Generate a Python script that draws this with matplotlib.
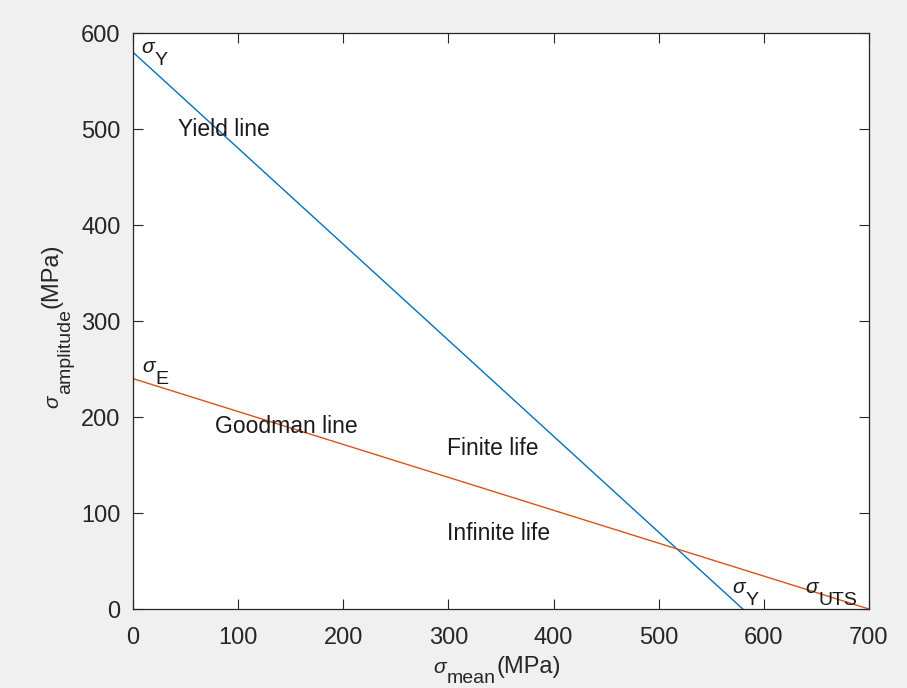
import matplotlib
matplotlib.use("Agg")
import matplotlib.pyplot as plt
from matplotlib.transforms import IdentityTransform

plt.rcParams['font.family'] = ['Liberation Sans', 'DejaVu Sans']

# data
yield_x = [0, 580]
yield_y = [580, 0]
goodman_x = [0, 700]
goodman_y = [240, 0]
x_ticks = [0, 100, 200, 300, 400, 500, 600, 700]
y_ticks = [0, 100, 200, 300, 400, 500, 600]

# plain annotations: (x, y, text)
notes = [
    (43, 500, 'Yield line'),
    (78, 190, 'Goodman line'),
    (299, 167, 'Finite life'),
    (299, 79, 'Infinite life'),
]
# sigma annotations: (x, y baseline, subscript)
sigmas = [
    (8, 579, 'Y'),
    (8.5, 247, 'E'),
    (570, 16.5, 'Y'),
    (639, 16.5, 'UTS'),
]

TXT = '#1a1a1a'
AXC = '#262626'

fig = plt.figure(figsize=(9.07, 6.88), dpi=100, facecolor='#f0f0f0')
ax = fig.add_axes([0.1466, 0.1148, 0.8115, 0.8372])
renderer = fig.canvas.get_renderer()

ax.plot(yield_x, yield_y, color='#0072BD', lw=1.0)
ax.plot(goodman_x, goodman_y, color='#D95319', lw=1.0)

ax.set_xlim(0, 700)
ax.set_ylim(0, 600)
ax.set_xticks(x_ticks)
ax.set_yticks(y_ticks)


def chain(parts, x, y, rot=0, color=TXT):
    # parts: list of (text, drop in px, italic, size); x, y in display px
    for s, drop, italic, size in parts:
        if rot == 0:
            px, py = x, y - drop
        else:
            px, py = x + drop, y
        t = fig.text(px, py, s, transform=IdentityTransform(), fontsize=size,
                     style='italic' if italic else 'normal', color=color,
                     ha='left', va='baseline', rotation=rot, rotation_mode='anchor')
        bb = t.get_window_extent(renderer)
        if rot == 0:
            x += bb.width + 1
        else:
            y += bb.height + 1


for x, y, s in notes:
    ax.text(x, y, s, fontsize=16.5, color=TXT, ha='left', va='center')

for x, y, sub in sigmas:
    dx, dy = ax.transData.transform((x, y))
    chain([('σ', 0, True, 15), (sub, 12, False, 14)], dx, dy)

ax.tick_params(direction='in', length=7, width=0.8, top=True, right=True,
               labelsize=17, colors=AXC)
ax.tick_params(axis='x', pad=13)
ax.tick_params(axis='y', pad=9)
for sp in ax.spines.values():
    sp.set_color(AXC)
    sp.set_linewidth(0.9)

# axis labels (built by hand so the subscripts sit like the original)
chain([('σ', 0, True, 15), ('mean', 10, False, 14), ('(MPa)', 0, False, 17)],
      433, 688 - 673, color=AXC)
chain([('σ', 0, True, 15), ('amplitude', 12, False, 14), ('(MPa)', 0, False, 17)],
      58, 688 - 408, rot=90, color=AXC)

plt.savefig('out.png', dpi=100, facecolor=fig.get_facecolor())
plt.close()
